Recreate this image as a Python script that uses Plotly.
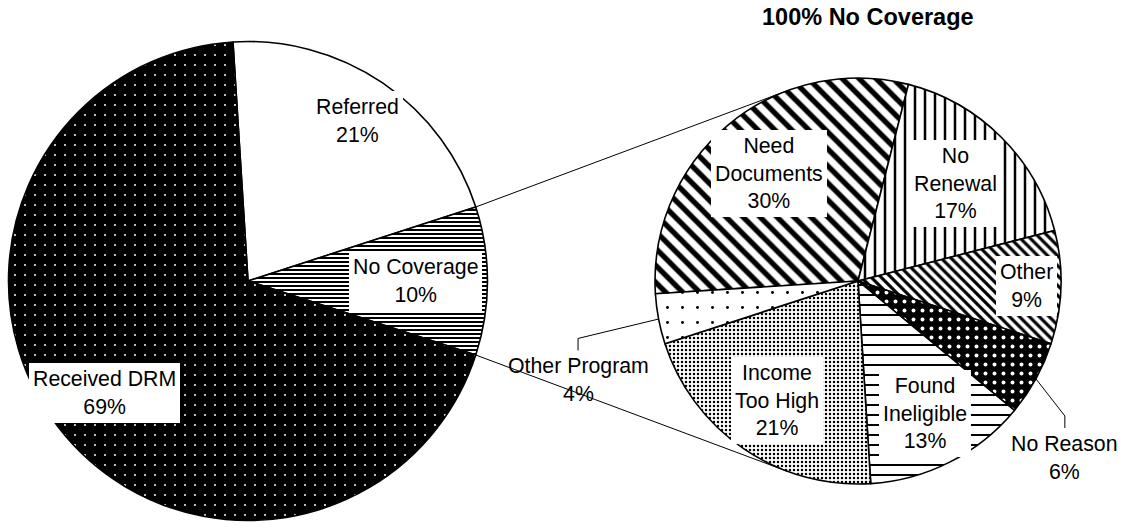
import math
import plotly.graph_objects as go

# ---- data -------------------------------------------------------------
main_labels = ["Referred", "No Coverage", "Received DRM"]
main_values = [21, 10, 69]

detail_title = "100% No Coverage"
detail_labels = ["Need Documents", "No Renewal", "Other", "No Reason",
                 "Found Ineligible", "Income Too High", "Other Program"]
detail_values = [30, 17, 9, 6, 13, 21, 4]

# ---- canvas / geometry ------------------------------------------------
W, H = 1126, 527
FONT = "Liberation Sans, Arial, sans-serif"
LEFT = dict(cx=248.0, cy=281.0, r=239.5)
RIGHT = dict(cx=858.0, cy=281.0, r=203.0)


def domain(p):
    return dict(x=[(p["cx"] - p["r"]) / W, (p["cx"] + p["r"]) / W],
                y=[1 - (p["cy"] + p["r"]) / H, 1 - (p["cy"] - p["r"]) / H])


def polar(p, ang, frac):
    a = math.radians(ang)
    return (p["cx"] + frac * p["r"] * math.sin(a),
            p["cy"] - frac * p["r"] * math.cos(a))


def paper(x, y):
    return x / W, 1 - y / H


def mid_angles(values, rotation):
    total = float(sum(values))
    out, acc = [], rotation
    for v in values:
        span = 360.0 * v / total
        out.append(acc + span / 2)
        acc += span
    return out


def edge_angles(values, rotation):
    total = float(sum(values))
    out, acc = [rotation], rotation
    for v in values:
        acc += 360.0 * v / total
        out.append(acc)
    return out


# the split slice ("No Coverage") is centred on the 3 o'clock direction
split = 1
main_rotation = 90 - 360.0 * (sum(main_values[:split]) + main_values[split] / 2) / sum(main_values)
detail_rotation = -93.6

fig = go.Figure()

fig.add_trace(go.Pie(
    labels=main_labels, values=main_values, sort=False, direction="clockwise",
    rotation=main_rotation, domain=domain(LEFT), textinfo="none",
    hoverinfo="label+percent", showlegend=False,
    marker=dict(
        colors=["white", "white", "black"],
        line=dict(color="black", width=1.6),
        pattern=dict(
            shape=["", "-", "."],
            bgcolor=["white", "white", "black"],
            fgcolor=["black", "black", "white"],
            size=[8, 4, 10],
            solidity=[0.1, 0.5, 0.03],
            fillmode="replace",
        ),
    ),
))

fig.add_trace(go.Pie(
    labels=detail_labels, values=detail_values, sort=False, direction="clockwise",
    rotation=detail_rotation, domain=domain(RIGHT), textinfo="none",
    hoverinfo="label+percent", showlegend=False,
    marker=dict(
        colors=["white"] * 7,
        line=dict(color="black", width=1.6),
        pattern=dict(
            shape=["\\", "|", "\\", ".", "-", ".", "."],
            bgcolor=["white", "white", "white", "black", "white", "white", "white"],
            fgcolor=["black", "black", "black", "white", "black", "black", "black"],
            size=[12, 10, 7, 9, 10, 4, 15],
            solidity=[0.45, 0.25, 0.45, 0.15, 0.2, 0.3, 0.03],
            fillmode="replace",
        ),
    ),
))

# ---- connector lines (tangents from split slice edges to detail pie) --
edges = edge_angles(main_values, main_rotation)
shapes = []
for ang, side in ((edges[split], -1), (edges[split + 1], 1)):
    px, py = polar(LEFT, ang, 1.0)
    dx, dy = RIGHT["cx"] - px, RIGHT["cy"] - py
    d = math.hypot(dx, dy)
    base = math.atan2(dy, dx)
    off = math.asin(RIGHT["r"] / d)
    t = math.sqrt(d * d - RIGHT["r"] ** 2)
    a = base + side * off
    tx, ty = px + t * math.cos(a), py + t * math.sin(a)
    x0, y0 = paper(px, py)
    x1, y1 = paper(tx, ty)
    shapes.append(dict(type="line", xref="paper", yref="paper",
                       x0=x0, y0=y0, x1=x1, y1=y1, layer="below",
                       line=dict(color="black", width=1)))

# ---- labels -----------------------------------------------------------
LABEL_SIZE = 21.3
annotations = []


def add_label(x, y, text, boxed=True):
    xp, yp = paper(x, y)
    annotations.append(dict(
        x=xp, y=yp, xref="paper", yref="paper", text=text, showarrow=False,
        xanchor="center", yanchor="middle", align="center",
        font=dict(family=FONT, size=LABEL_SIZE, color="black"),
        bgcolor="white" if boxed else "rgba(0,0,0,0)",
        borderpad=4, borderwidth=0,
    ))


main_wrap = ["Referred", "No Coverage", "Received DRM"]
main_frac = [0.81, 0.70, 0.76]
for lab, v, ang, fr in zip(main_wrap, main_values,
                           mid_angles(main_values, main_rotation), main_frac):
    x, y = polar(LEFT, ang, fr)
    add_label(x, y, f"{lab}<br>{v}%")

detail_wrap = ["Need<br>Documents", "No<br>Renewal", "Other", "No Reason",
               "Found<br>Ineligible", "Income<br>Too High", "Other Program"]
detail_frac = [0.69, 0.68, 0.83, None, 0.73, 0.71, None]
# labels placed outside the pie, with a leader line: (angle, radius fraction)
outside = {3: (130.5, 1.34), 6: (250.5, 1.463)}
d_mid = mid_angles(detail_values, detail_rotation)
for i, (lab, v, ang) in enumerate(zip(detail_wrap, detail_values, d_mid)):
    text = f"{lab}<br>{v}%"
    if i in outside:
        la, lf = outside[i]
        lx, ly = polar(RIGHT, la, lf)
        add_label(lx, ly, text, boxed=False)
        top = ly - 1.3 * LABEL_SIZE
        sx, sy = polar(RIGHT, ang, 1.0)
        pts = [paper(sx, sy), paper(lx, top - 14), paper(lx, top - 2)]
        path = "M {} {} L {} {} L {} {}".format(*[c for p in pts for c in p])
        shapes.append(dict(type="path", xref="paper", yref="paper", path=path,
                           line=dict(color="black", width=1)))
    else:
        x, y = polar(RIGHT, ang, detail_frac[i])
        add_label(x, y, text)

tx, ty = paper(RIGHT["cx"] + 10, 17)
annotations.append(dict(
    x=tx, y=ty, xref="paper", yref="paper", text=f"<b>{detail_title}</b>",
    showarrow=False, xanchor="center", yanchor="middle",
    font=dict(family=FONT, size=23.5, color="black"),
))

fig.update_layout(
    width=W, height=H,
    margin=dict(l=0, r=0, t=0, b=0),
    paper_bgcolor="white", plot_bgcolor="white",
    font=dict(family=FONT, color="black"),
    shapes=shapes, annotations=annotations,
    showlegend=False,
)

fig.write_html("out.html")
